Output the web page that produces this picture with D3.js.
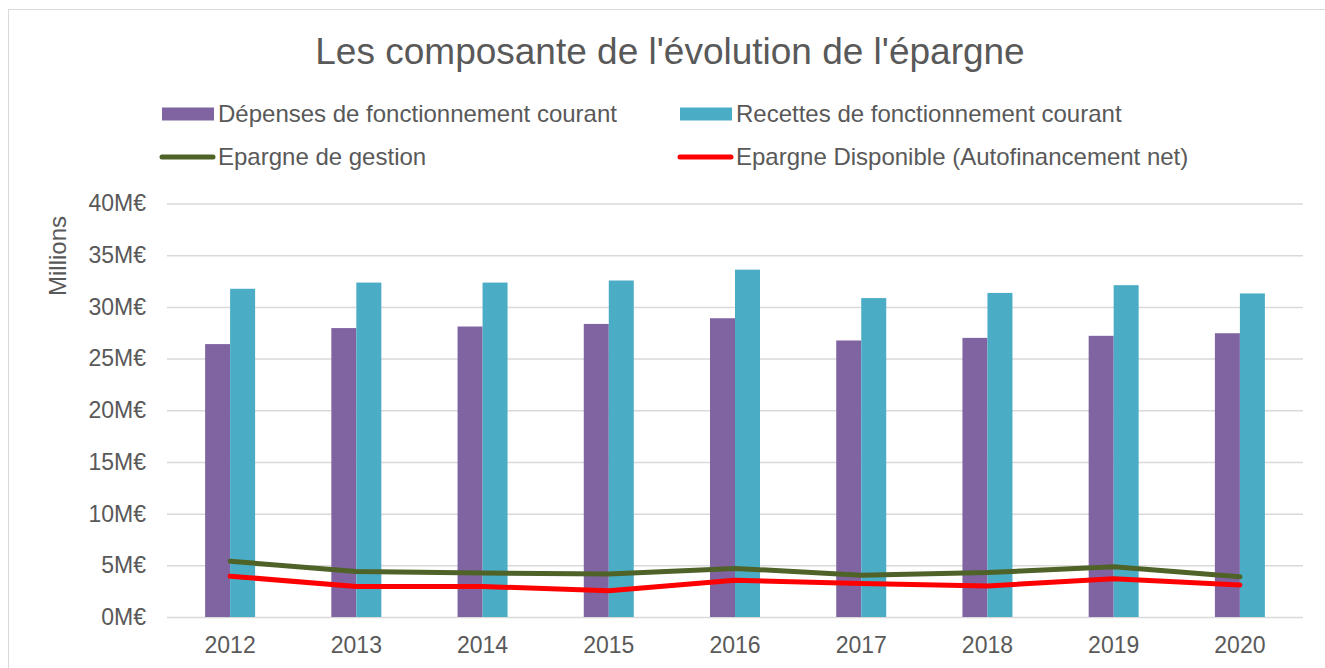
<!DOCTYPE html>
<html>
<head>
<meta charset="utf-8">
<script src="https://cdn.jsdelivr.net/npm/d3@7"></script>
<style>
  body { margin: 0; background: #fff; }
  text { font-family: "Liberation Sans", Arial, sans-serif; fill: #595959; }
</style>
</head>
<body>
<script>
var years = ["2012","2013","2014","2015","2016","2017","2018","2019","2020"]
var depenses = [26.4, 27.95, 28.1, 28.35, 28.9, 26.75, 27.0, 27.2, 27.45]
var recettes = [31.75, 32.35, 32.35, 32.55, 33.6, 30.85, 31.35, 32.1, 31.3]
var epargneGestion = [5.4, 4.4, 4.25, 4.15, 4.7, 4.05, 4.3, 4.85, 3.9]
var epargneDispo = [3.95, 2.95, 2.95, 2.55, 3.55, 3.25, 3.0, 3.7, 3.1]
var yTicks = [0, 5, 10, 15, 20, 25, 30, 35, 40]

var width = 1325
var height = 668

var svg = d3.select("body")
            .append("svg")
            .attr("width", width)
            .attr("height", height)

// chart border
svg.append("rect")
   .attr("x", 8.5).attr("y", 9.5)
   .attr("width", width).attr("height", height)
   .attr("fill", "none")
   .attr("stroke", "#d9d9d9")

var plotLeft = 167, plotRight = 1303, plotTop = 203.5, plotBottom = 617

var xScale = d3.scaleBand()
               .domain(years)
               .range([plotLeft, plotRight])

var yScale = d3.scaleLinear()
               .domain([0, 40])
               .range([plotBottom, plotTop])

// gridlines + y labels
var yAxis = d3.axisLeft(yScale)
              .tickValues(yTicks)
              .tickSize(-(plotRight - plotLeft))
              .tickPadding(21)
              .tickFormat(function(d){ return d + "M€" })

var gy = svg.append("g")
            .attr("transform", "translate(" + plotLeft + ",0)")
            .call(yAxis)
gy.select(".domain").remove()
gy.selectAll("line").attr("stroke", "#d9d9d9").attr("stroke-width", 1.5)
gy.selectAll("text").style("font-size", "23px").attr("fill", "#595959")
  .style("font-family", "Liberation Sans, Arial, sans-serif")

var xAxis = d3.axisBottom(xScale).tickSize(0).tickPadding(20)
var gx = svg.append("g")
            .attr("transform", "translate(0," + plotBottom + ")")
            .call(xAxis)
gx.select(".domain").remove()
gx.selectAll("text").style("font-size", "23px").attr("fill", "#595959")
  .style("font-family", "Liberation Sans, Arial, sans-serif")

var barW = 25

svg.selectAll(".dep")
   .data(depenses)
   .enter()
   .append("rect")
   .attr("class", "dep")
   .attr("x", function(d, i){ return xScale(years[i]) + xScale.bandwidth()/2 - barW })
   .attr("y", function(d){ return yScale(d) })
   .attr("width", barW)
   .attr("height", function(d){ return plotBottom - yScale(d) })
   .attr("fill", "#8064a2")

svg.selectAll(".rec")
   .data(recettes)
   .enter()
   .append("rect")
   .attr("class", "rec")
   .attr("x", function(d, i){ return xScale(years[i]) + xScale.bandwidth()/2 })
   .attr("y", function(d){ return yScale(d) })
   .attr("width", barW)
   .attr("height", function(d){ return plotBottom - yScale(d) })
   .attr("fill", "#4bacc6")

var line = d3.line()
             .x(function(d, i){ return xScale(years[i]) + xScale.bandwidth()/2 })
             .y(function(d){ return yScale(d) })

svg.append("path")
   .attr("d", line(epargneGestion))
   .attr("fill", "none")
   .attr("stroke", "#4f6228")
   .attr("stroke-width", 5)
   .attr("stroke-linecap", "round")
   .attr("stroke-linejoin", "round")

svg.append("path")
   .attr("d", line(epargneDispo))
   .attr("fill", "none")
   .attr("stroke", "#ff0000")
   .attr("stroke-width", 5)
   .attr("stroke-linecap", "round")
   .attr("stroke-linejoin", "round")

// title
svg.append("text")
   .attr("x", 670).attr("y", 64)
   .attr("text-anchor", "middle")
   .style("font-size", "37px")
   .text("Les composante de l'évolution de l'épargne")

// y axis title
svg.append("text")
   .attr("transform", "translate(66,256) rotate(-90)")
   .attr("text-anchor", "middle")
   .style("font-size", "24px")
   .text("Millions")

// legend
var legend = [
  {name: "Dépenses de fonctionnement courant", color: "#8064a2", type: "bar", x: 162, y: 114},
  {name: "Recettes de fonctionnement courant", color: "#4bacc6", type: "bar", x: 680, y: 114},
  {name: "Epargne de gestion", color: "#4f6228", type: "line", x: 162, y: 157},
  {name: "Epargne Disponible (Autofinancement net)", color: "#ff0000", type: "line", x: 680, y: 157}
]

legend.forEach(function(l){
  if (l.type == "bar") {
    svg.append("rect")
       .attr("x", l.x).attr("y", l.y - 6.5)
       .attr("width", 52).attr("height", 13)
       .attr("fill", l.color)
  } else {
    svg.append("line")
       .attr("x1", l.x).attr("x2", l.x + 51)
       .attr("y1", l.y).attr("y2", l.y)
       .attr("stroke", l.color)
       .attr("stroke-width", 5)
       .attr("stroke-linecap", "round")
  }
  svg.append("text")
     .attr("x", l.x + 56).attr("y", l.y + 8)
     .style("font-size", "24px")
     .text(l.name)
})
</script>
</body>
</html>
